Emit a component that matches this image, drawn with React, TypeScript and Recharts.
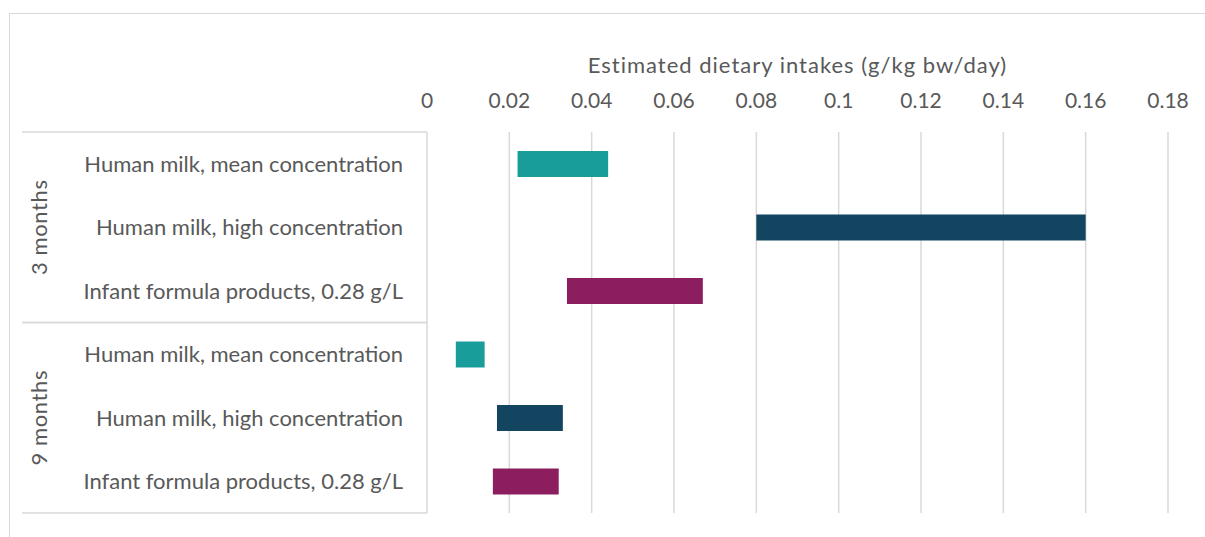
import React from 'react';
import { BarChart, Bar, XAxis, YAxis, CartesianGrid, Cell, Label } from 'recharts';

const groups = ['3 months', '9 months'];
const products = [
  'Human milk, mean concentration',
  'Human milk, high concentration',
  'Infant formula products, 0.28 g/L'
];
// intake range per row, 3 months first then 9 months
const lowIntake = [0.022, 0.08, 0.034, 0.007, 0.017, 0.016];
const highIntake = [0.044, 0.16, 0.067, 0.014, 0.033, 0.032];
const xTicks = [0, 0.02, 0.04, 0.06, 0.08, 0.1, 0.12, 0.14, 0.16, 0.18];
const productColors = ['#199D9B', '#134460', '#8C1D5E'];

const FONT = 'Lato, "Open Sans", sans-serif';
const TEXT = '#595959';
const GRID = '#d9d9d9';

const WIDTH = 1205;
const HEIGHT = 537;
const AXIS_W = 427;
const TOP_H = 132;
const MARGIN = { top: 0, right: 37, bottom: 24, left: 0 };
const ROW_H = (HEIGHT - MARGIN.bottom - TOP_H) / (groups.length * products.length);

const rows = groups.flatMap((group, gi) =>
  products.map((product, pi) => {
    const k = gi * products.length + pi;
    return {
      id: `${gi}-${pi}`,
      group,
      product,
      productIndex: pi,
      range: [lowIntake[k], highIntake[k]]
    };
  })
);

const CategoryTick = (props: any) => {
  const { x, y, payload } = props;
  const row = rows.find(r => r.id === payload.value);
  if (!row) return null;
  const axisRight = x + 24;
  const isFirst = row.productIndex === 0;
  const isLast = row.productIndex === products.length - 1;
  const isMiddle = row.productIndex === 1;
  return (
    <g>
      <text
        x={x}
        y={y}
        dy="0.36em"
        textAnchor="end"
        fill={TEXT}
        fontSize={22}
        fontFamily={FONT}
      >
        {row.product}
      </text>
      {isFirst && (
        <line x1={22} x2={axisRight} y1={y - ROW_H / 2} y2={y - ROW_H / 2} stroke={GRID} strokeWidth={1.5} />
      )}
      {isLast && (
        <line x1={22} x2={axisRight} y1={y + ROW_H / 2} y2={y + ROW_H / 2} stroke={GRID} strokeWidth={1.5} />
      )}
      {isMiddle && (
        <text
          x={39}
          y={y}
          dy="0.36em"
          textAnchor="middle"
          transform={`rotate(-90, 39, ${y})`}
          fill={TEXT}
          fontSize={22}
          letterSpacing={0.6}
          fontFamily={FONT}
        >
          {row.group}
        </text>
      )}
    </g>
  );
};

export default function App() {
  return (
    <div style={{ position: 'absolute', left: 0, top: 0, width: WIDTH, height: HEIGHT, overflow: 'hidden', background: '#fff' }}>
      <div
        style={{
          position: 'absolute',
          left: 9,
          top: 13,
          width: WIDTH + 50,
          height: HEIGHT + 50,
          border: `1px solid ${GRID}`
        }}
      />
      <div style={{ position: 'absolute', left: 0, top: 0 }}>
        <BarChart width={WIDTH} height={HEIGHT} data={rows} layout="vertical" margin={MARGIN}>
          <CartesianGrid horizontal={false} stroke={GRID} strokeWidth={1.5} />
          <XAxis
            type="number"
            orientation="top"
            domain={[0, 0.18]}
            ticks={xTicks}
            height={TOP_H}
            axisLine={false}
            tickLine={false}
            tickSize={0}
            tickMargin={24}
            interval={0}
            tick={{ fill: TEXT, fontSize: 21, fontFamily: FONT }}
          >
            <Label
              value="Estimated dietary intakes (g/kg bw/day)"
              position="insideTop"
              offset={57}
              fill={TEXT}
              fontSize={22}
              letterSpacing={1}
              fontFamily={FONT}
            />
          </XAxis>
          <YAxis
            type="category"
            dataKey="id"
            width={AXIS_W}
            axisLine={false}
            tickLine={false}
            tickSize={0}
            tickMargin={24}
            interval={0}
            tick={<CategoryTick />}
          />
          <Bar dataKey="range" barSize={26} isAnimationActive={false}>
            {rows.map(r => (
              <Cell key={r.id} fill={productColors[r.productIndex]} />
            ))}
          </Bar>
        </BarChart>
      </div>
    </div>
  );
}
